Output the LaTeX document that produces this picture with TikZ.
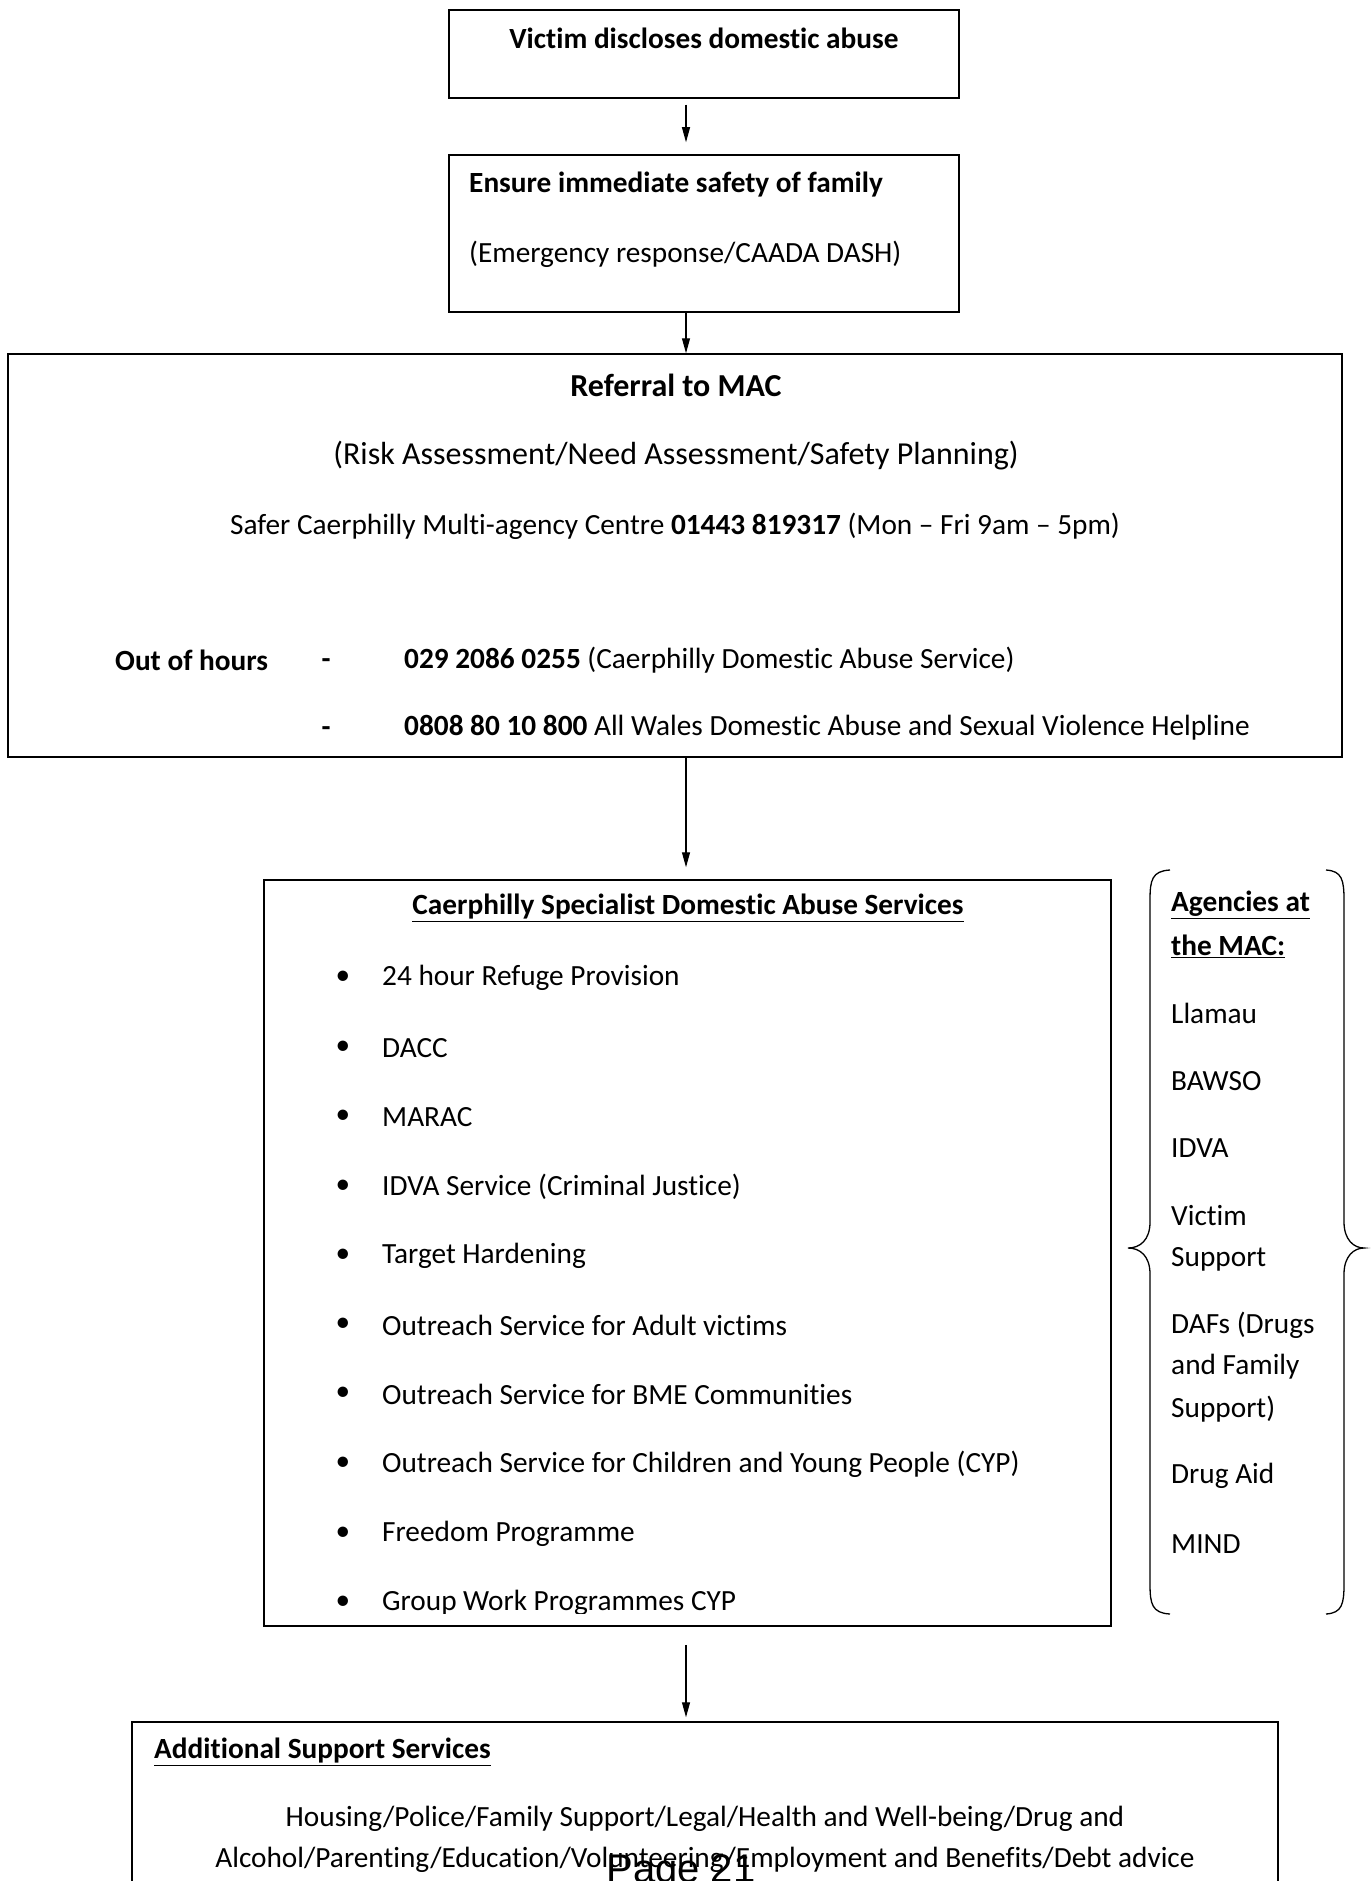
\documentclass[tikz,border=0pt]{standalone}
\usepackage{fontspec}
\setmainfont{Carlito}[Ligatures=NoCommon]
\newfontfamily\pagefont{Liberation Sans}
\usetikzlibrary{arrows.meta}

\begin{document}
\begin{tikzpicture}[x=1pt,y=-1pt,
  box/.style={draw=black,line width=1.5pt,inner sep=0pt},
  txt/.style={inner sep=0pt,font=\fontsize{29.3}{35}\selectfont},
  txtB/.style={inner sep=0pt,font=\fontsize{29.3}{35}\selectfont\bfseries},
  txtL/.style={inner sep=0pt,font=\fontsize{32}{38}\selectfont},
  lst/.style={txt,anchor=west,label={[txt,anchor=center,xshift=-39pt]180:\textbullet}},
  ag/.style={txt,anchor=west},
  arr/.style={line width=1.1pt,-{Triangle[length=15pt,width=8pt]}}]
\useasboundingbox (0,0) rectangle (1371,1881);
\clip (0,0) rectangle (1371,1881);
\coordinate (ax) at (686,0);

\node[box,minimum width=510pt,minimum height=88pt] (vic) at (704,54) {};
\node[txtB] (vicT) at (704,38) {Victim discloses domestic abuse};

\node[box,minimum width=510pt,minimum height=157pt] (safe) at (704,233.5) {};
\node[txtB,anchor=west] (safeT) at (469,185) {Ensure immediate safety of family};
\node[txt,anchor=west] (safeS) at (469,254) {(Emergency response/CAADA DASH)};

\node[box,minimum width=1334pt,minimum height=403pt] (mac) at (675,555.5) {};
\node[txtL,font=\fontsize{32}{38}\selectfont\bfseries] (macT) at (676,385) {Referral to MAC};
\node[txtL] (macS) at (676,456) {(Risk Assessment/Need Assessment/Safety Planning)};
\node[txt] (macC) at (675,526) {Safer Caerphilly Multi-agency Centre \textbf{01443 819317} (Mon – Fri 9am – 5pm)};
\node[txtB,anchor=west] (ooh) at (115,660) {Out of hours};
\node[txtB] (dsh1) at (326,664) {-};
\node[txt,anchor=west] (num1) at (404,660) {\textbf{029 2086 0255} (Caerphilly Domestic Abuse Service)};
\node[txtB] (dsh2) at (326,732) {-};
\node[txt,anchor=west] (num2) at (404,728) {\textbf{0808 80 10 800} All Wales Domestic Abuse and Sexual Violence Helpline};

\node[box,minimum width=847pt,minimum height=746pt] (spec) at (687.5,1253) {};
\node[txtB] (specT) at (688,908) {\underline{Caerphilly Specialist Domestic Abuse Services}};
\node[lst] (s1) at (382,978) {24 hour Refuge Provision};
\node[lst] (s2) at (382,1048) {DACC};
\node[lst] (s3) at (382,1117) {MARAC};
\node[lst] (s4) at (382,1187) {IDVA Service (Criminal Justice)};
\node[lst] (s5) at (382,1256) {Target Hardening};
\node[lst] (s6) at (382,1325) {Outreach Service for Adult victims};
\node[lst] (s7) at (382,1394) {Outreach Service for BME Communities};
\node[lst] (s8) at (382,1464) {Outreach Service for Children and Young People (CYP)};
\node[lst] (s9) at (382,1534) {Freedom Programme};
\begin{scope}
\clip (266,1500) rectangle (1109,1613);
\node[lst] (s10) at (382,1603) {Group Work Programmes CYP};
\end{scope}

\draw[line width=1.3pt] (1170,870) .. controls (1152,871) and (1150,880) .. (1150,900) -- (1150,1222) .. controls (1150,1240) and (1140,1248) .. (1128,1248) .. controls (1140,1248) and (1150,1256) .. (1150,1274) -- (1150,1584) .. controls (1150,1604) and (1152,1613) .. (1170,1614);
\draw[line width=1.3pt] (1326,870) .. controls (1342,871) and (1344,880) .. (1344,900) -- (1344,1222) .. controls (1344,1240) and (1354,1248) .. (1364,1248) .. controls (1354,1248) and (1344,1256) .. (1344,1274) -- (1344,1584) .. controls (1344,1604) and (1342,1613) .. (1326,1614);
\node[txtB,anchor=west] (ag1) at (1171,905) {\underline{Agencies at}};
\node[txtB,anchor=west] (ag2) at (1171,946) {\underline{the MAC:}};
\node[ag] (ag3) at (1171,1013) {Llamau};
\node[ag] (ag4) at (1171,1081) {BAWSO};
\node[ag] (ag5) at (1171,1148) {IDVA};
\node[ag] (ag6) at (1171,1216) {Victim};
\node[ag] (ag7) at (1171,1259) {Support};
\node[ag] (ag8) at (1171,1325) {DAFs (Drugs};
\node[ag] (ag9) at (1171,1367) {and Family};
\node[ag] (ag10) at (1171,1409) {Support)};
\node[ag] (ag11) at (1171,1476) {Drug Aid};
\node[ag] (ag12) at (1171,1544) {MIND};

\node[box,minimum width=1146pt,minimum height=238pt] (add) at (705,1841) {};
\node[txtB,anchor=west] (addT) at (154,1752) {\underline{Additional Support Services}};
\node[txt] (addL1) at (705,1819) {Housing/Police/Family Support/Legal/Health and Well-being/Drug and};
\node[txt] (addL2) at (705,1860) {Alcohol/Parenting/Education/Volunteering/Employment and Benefits/Debt advice};

\draw[arr,shorten <=6pt,shorten >=12pt] (vic.south -| ax) -- (safe.north -| ax);
\draw[arr] (safe.south -| ax) -- (mac.north -| ax);
\draw[arr,shorten >=12pt] (mac.south -| ax) -- (spec.north -| ax);
\draw[arr,shorten <=18pt,shorten >=4pt] (spec.south -| ax) -- (add.north -| ax);

\node[inner sep=0pt,anchor=base,font=\pagefont\fontsize{40}{48}\selectfont] (pg) at (681,1882) {Page 21};
\end{tikzpicture}
\end{document}
